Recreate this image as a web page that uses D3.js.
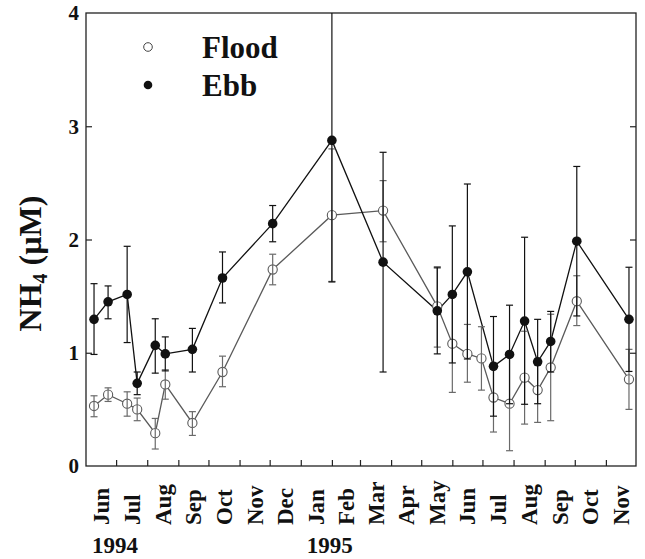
<!DOCTYPE html>
<html>
<head>
<meta charset="utf-8">
<script src="https://cdn.jsdelivr.net/npm/d3@7"></script>
<style>
    body { margin: 0; background: #ffffff; }
    svg text { font-family: "Liberation Serif", "Times New Roman", serif; font-weight: bold; fill: #111; }
</style>
</head>
<body>
<div id="chart"></div>
<script>
//sampling dates (same for both series except the extra flood sample on 30 Jun 1995)
var floodDates = ['1994-06-09', '1994-06-23', '1994-07-12', '1994-07-22', '1994-08-09', '1994-08-19', '1994-09-15', '1994-10-15',
    '1994-12-04', '1995-02-01', '1995-03-24', '1995-05-17', '1995-06-01', '1995-06-16', '1995-06-30', '1995-07-12',
    '1995-07-28', '1995-08-12', '1995-08-25', '1995-09-07', '1995-10-03', '1995-11-24'];
var floodMean = [0.53, 0.63, 0.55, 0.50, 0.29, 0.72, 0.38, 0.83, 1.735, 2.215, 2.255, 1.41, 1.08, 0.99, 0.95, 0.605,
    0.55, 0.78, 0.67, 0.87, 1.455, 0.765];
var floodLow = [0.435, 0.57, 0.44, 0.40, 0.15, 0.59, 0.27, 0.70, 1.60, 1.63, 1.98, 1.05, 0.65, 0.74, 0.67, 0.30,
    0.135, 0.37, 0.385, 0.40, 1.24, 0.50];
var floodHigh = [0.62, 0.69, 0.655, 0.60, 0.42, 0.85, 0.48, 0.97, 1.87, 2.80, 2.52, 1.76, 1.51, 1.25, 1.23, 0.91,
    0.96, 1.19, 0.95, 1.34, 1.68, 1.03];

var ebbDates = ['1994-06-09', '1994-06-23', '1994-07-12', '1994-07-22', '1994-08-09', '1994-08-19', '1994-09-15', '1994-10-15',
    '1994-12-04', '1995-02-01', '1995-03-24', '1995-05-17', '1995-06-01', '1995-06-16', '1995-07-12', '1995-07-28',
    '1995-08-12', '1995-08-25', '1995-09-07', '1995-10-03', '1995-11-24'];
var ebbMean = [1.295, 1.45, 1.515, 0.73, 1.065, 0.99, 1.03, 1.66, 2.14, 2.875, 1.80, 1.37, 1.515, 1.715, 0.88, 0.985,
    1.28, 0.92, 1.10, 1.985, 1.295];
var ebbLow = [0.985, 1.30, 1.09, 0.63, 0.82, 0.84, 0.83, 1.44, 1.98, 1.625, 0.83, 0.99, 0.91, 0.945, 0.44, 0.55,
    0.545, 0.55, 0.83, 1.325, 0.835];
var ebbHigh = [1.61, 1.59, 1.94, 0.83, 1.30, 1.14, 1.215, 1.89, 2.30, 4.0, 2.77, 1.75, 2.12, 2.49, 1.32, 1.42,
    2.02, 1.295, 1.365, 2.645, 1.755];

//axis labels
var monthLabels = ['Jun', 'Jul', 'Aug', 'Sep', 'Oct', 'Nov', 'Dec', 'Jan', 'Feb', 'Mar', 'Apr', 'May',
    'Jun', 'Jul', 'Aug', 'Sep', 'Oct', 'Nov'];
var yearLabels = ['1994', '1995'];
var yearStarts = ['1994-06-01', '1995-01-01'];
var yTicks = [0, 1, 2, 3, 4];
var seriesNames = ['Flood', 'Ebb'];

//declare needed variables
var width = 645,
    height = 559,
    plot = { left: 86, right: 9, top: 13, bottom: 93 },
    parseDate = d3.timeParse('%Y-%m-%d'),
    startDate = parseDate('1994-06-01'),
    endDate = parseDate('1995-12-01');

//build series rows
function makeRows(dates, mean, low, high) {
    return dates.map(function (d, i) {
        return { date: parseDate(d), value: mean[i], low: low[i], high: high[i] };
    });
}
var flood = makeRows(floodDates, floodMean, floodLow, floodHigh),
    ebb = makeRows(ebbDates, ebbMean, ebbLow, ebbHigh);

var x = d3.scaleTime().domain([startDate, endDate]).range([plot.left, width - plot.right]),
    y = d3.scaleLinear().domain([0, 4]).range([height - plot.bottom, plot.top]);

var svg = d3.select('#chart').append('svg')
    .attr('width', width)
    .attr('height', height);

svg.append('rect').attr('width', width).attr('height', height).attr('fill', '#ffffff');

//axes with inward ticks
var monthTicks = d3.timeMonth.range(startDate, endDate);
svg.append('g')
    .attr('transform', 'translate(0,' + y(0) + ')')
    .call(d3.axisBottom(x).tickValues(monthTicks.slice(1)).tickSizeInner(-6).tickSizeOuter(0).tickFormat(''))
    .call(function (g) { g.selectAll('line').attr('stroke', '#222').attr('stroke-width', 1.2); });

svg.append('g')
    .attr('transform', 'translate(' + plot.left + ',0)')
    .call(d3.axisLeft(y).tickValues(yTicks.slice(1, 4)).tickSizeInner(-6).tickSizeOuter(0).tickFormat(''))
    .call(function (g) { g.selectAll('line').attr('stroke', '#222').attr('stroke-width', 1.2); });

svg.append('g')
    .attr('transform', 'translate(' + (width - plot.right) + ',0)')
    .call(d3.axisRight(y).tickValues(yTicks.slice(1, 4)).tickSizeInner(-6).tickSizeOuter(0).tickFormat(''))
    .call(function (g) { g.selectAll('line').attr('stroke', '#222').attr('stroke-width', 1.2); });

svg.selectAll('.domain').remove();

//frame
svg.append('rect')
    .attr('x', plot.left)
    .attr('y', plot.top)
    .attr('width', width - plot.left - plot.right)
    .attr('height', y(0) - plot.top)
    .attr('fill', 'none')
    .attr('stroke', '#222')
    .attr('stroke-width', 1.3);

//y tick labels
svg.selectAll('text.ytick')
    .data(yTicks)
    .enter().append('text')
    .attr('class', 'ytick')
    .attr('x', plot.left - 7)
    .attr('y', function (d) { return y(d); })
    .attr('dy', '0.35em')
    .attr('text-anchor', 'end')
    .style('font-size', '21px')
    .text(function (d) { return d; });

//y title
var title = svg.append('text')
    .attr('transform', 'translate(41,' + ((y(0) + y(4)) / 2 + 24) + ') rotate(-90)')
    .attr('text-anchor', 'middle')
    .style('font-size', '32px');
title.append('tspan').text('NH');
title.append('tspan').attr('dy', 6).style('font-size', '20px').text('4');
title.append('tspan').attr('dy', -6).text(' (\u00b5M)');

//month labels centred in month bands
svg.selectAll('text.month')
    .data(monthLabels)
    .enter().append('text')
    .attr('class', 'month')
    .attr('transform', function (d, i) {
        var cx = (x(monthTicks[i]) + x(d3.timeMonth.offset(monthTicks[i], 1))) / 2;
        return 'translate(' + (cx + 8) + ',' + 525 + ') rotate(-90)';
    })
    .style('font-size', '23px')
    .text(function (d) { return d; });

//year labels
svg.selectAll('text.year')
    .data(yearLabels)
    .enter().append('text')
    .attr('class', 'year')
    .attr('x', function (d, i) { return x(parseDate(yearStarts[i])) + 6; })
    .attr('y', 553)
    .style('font-size', '23px')
    .text(function (d) { return d; });

var line = d3.line()
    .x(function (d) { return x(d.date); })
    .y(function (d) { return y(d.value); });

//draws one series
function drawSeries(data, color, cls) {
    var g = svg.append('g').attr('class', cls);
    g.append('path')
        .attr('d', line(data))
        .attr('fill', 'none')
        .attr('stroke', color)
        .attr('stroke-width', 1.3);
    return g;
}

//draws error bars
function drawErrors(data, color) {
    var g = svg.append('g');
    data.forEach(function (d) {
        var cx = x(d.date);
        g.append('line')
            .attr('x1', cx).attr('x2', cx)
            .attr('y1', y(d.low)).attr('y2', y(d.high))
            .attr('stroke', color).attr('stroke-width', 1.2);
        [d.low, d.high].forEach(function (v) {
            if (v >= 4) return;
            g.append('line')
                .attr('x1', cx - 3.5).attr('x2', cx + 3.5)
                .attr('y1', y(v)).attr('y2', y(v))
                .attr('stroke', color).attr('stroke-width', 1.2);
        });
    });
}

var floodColor = '#5a5a5a',
    ebbColor = '#111111';

drawSeries(flood, floodColor, 'flood');
drawSeries(ebb, ebbColor, 'ebb');

//flood markers
svg.append('g').selectAll('circle')
    .data(flood)
    .enter().append('circle')
    .attr('cx', function (d) { return x(d.date); })
    .attr('cy', function (d) { return y(d.value); })
    .attr('r', 4.6)
    .attr('fill', '#ffffff')
    .attr('stroke', floodColor)
    .attr('stroke-width', 1.1);

drawErrors(flood, '#6a6a6a');
drawErrors(ebb, ebbColor);

//ebb markers
svg.append('g').selectAll('circle')
    .data(ebb)
    .enter().append('circle')
    .attr('cx', function (d) { return x(d.date); })
    .attr('cy', function (d) { return y(d.value); })
    .attr('r', 4.8)
    .attr('fill', ebbColor);

//legend
var legend = svg.append('g');
seriesNames.forEach(function (name, i) {
    var ly = 47 + i * 38;
    legend.append('circle')
        .attr('cx', 148)
        .attr('cy', ly)
        .attr('r', 4.3)
        .attr('fill', i === 0 ? '#ffffff' : ebbColor)
        .attr('stroke', i === 0 ? '#444' : 'none')
        .attr('stroke-width', 1);
    legend.append('text')
        .attr('x', 202)
        .attr('y', ly + 11)
        .style('font-size', '31px')
        .text(name);
});
</script>
</body>
</html>
